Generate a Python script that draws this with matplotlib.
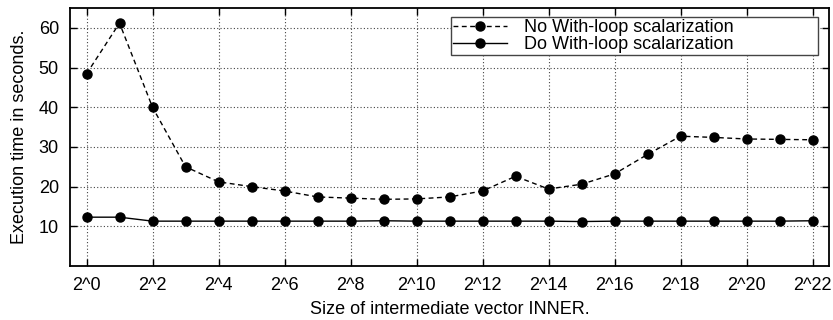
import matplotlib
matplotlib.use("Agg")
import matplotlib.pyplot as plt

plt.rcParams['font.family'] = ['Liberation Sans', 'DejaVu Sans']

exponents = list(range(23))
tick_labels = [f"2^{e}" for e in range(0, 23, 2)]
no_wls = [48.4, 61.2, 40.0, 25.0, 21.2, 20.0, 18.9, 17.4, 17.1, 16.8, 16.9, 17.4,
          18.9, 22.6, 19.4, 20.6, 23.2, 28.1, 32.7, 32.4, 32.0, 31.9, 31.8]
do_wls = [12.3, 12.3, 11.3, 11.3, 11.3, 11.3, 11.3, 11.3, 11.3, 11.4, 11.3, 11.3,
          11.3, 11.3, 11.3, 11.2, 11.3, 11.3, 11.3, 11.3, 11.3, 11.3, 11.4]

FS = 13

fig = plt.figure(figsize=(8.33, 3.2), dpi=100)
ax = fig.add_axes([70/833, 1 - 266/320, (829-70)/833, (266-8)/320])

ax.plot(exponents, no_wls, linestyle='--', color='black', linewidth=1.0,
        marker='o', markersize=6.5, dashes=(3.5, 2.5), label='No With-loop scalarization')
ax.plot(exponents, do_wls, linestyle='-', color='black', linewidth=1.0,
        marker='o', markersize=6.5, label='Do With-loop scalarization')

ax.set_xlim(-0.5, 22.5)
ax.set_ylim(0, 65)
ax.set_xticks(range(0, 23, 2))
ax.set_xticklabels(tick_labels)
ax.set_yticks(range(10, 61, 10))
ax.tick_params(direction='in', top=True, right=True, labelsize=FS, length=5, width=1, pad=8)
ax.grid(True, linestyle=(0, (1, 2)), color='#444444', linewidth=0.8)
for s in ax.spines.values():
    s.set_linewidth(1.3)

ax.set_xlabel('Size of intermediate vector INNER.', fontsize=FS, labelpad=5)
ax.set_ylabel('Execution time in seconds.', fontsize=FS, labelpad=8)

x0 = (451 - 70) / 759
x1 = (818 - 70) / 759
y1 = (266 - 17) / 258
y0 = (266 - 53) / 258
leg = ax.legend(loc='upper left', bbox_to_anchor=(x0, y0, x1 - x0, y1 - y0), mode='expand',
                fontsize=FS, frameon=True, fancybox=False,
                edgecolor='#444444', framealpha=1, borderaxespad=0,
                handlelength=3.0, borderpad=0.12, labelspacing=0.0,
                markerfirst=True, handletextpad=0.9)
leg.get_frame().set_linewidth(1.0)

fig.savefig('out.png', dpi=100)
